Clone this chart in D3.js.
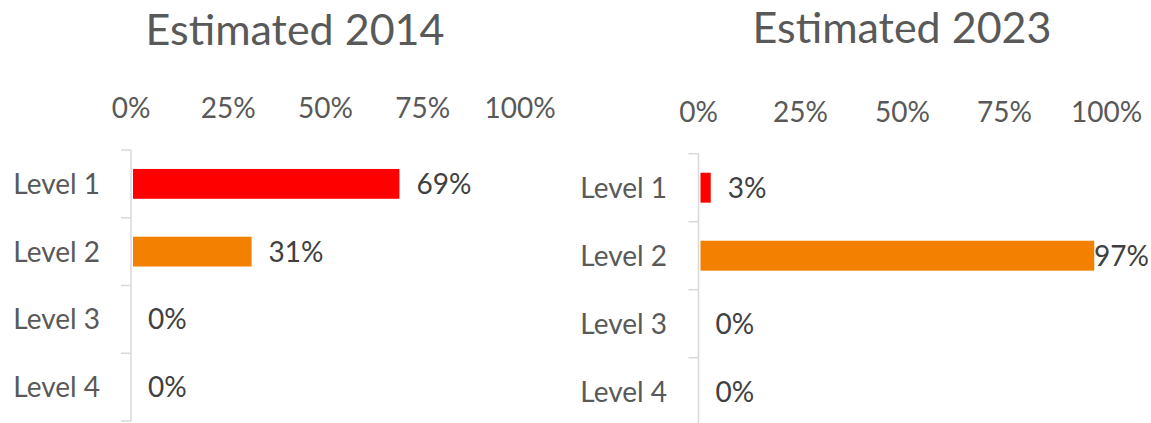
<!DOCTYPE html>
<html>
<head>
<meta charset="utf-8">
<script src="https://cdn.jsdelivr.net/npm/d3@7"></script>
<style>
  body { margin: 0; background: #fff; }
  text { font-family: Lato, "Open Sans", sans-serif; }
</style>
</head>
<body>
<div id="chart"></div>
<script>
// data
const levels = ["Level 1", "Level 2", "Level 3", "Level 4"];
const barColors = ["#ff0000", "#f48000", "#f48000", "#f48000"];
const values2014 = [0.69, 0.31, 0, 0];
const values2023 = [0.03, 0.97, 0, 0];
const tickValues = [0, 0.25, 0.5, 0.75, 1];
const titles = ["Estimated 2014", "Estimated 2023"];

const W = 1151, H = 423;
const svg = d3.select("#chart").append("svg")
  .attr("width", W)
  .attr("height", H);

const pct = d3.format(".0%");

// one panel per year
const panels = [
  { title: titles[0], values: values2014, x0: 131, x1: 520, y0: 150, y1: 421, titleX: 295, titleY: 45, tickY: 118, labelRight: 100, clip: 560 },
  { title: titles[1], values: values2023, x0: 698.5, x1: 1106.5, y0: 153.7, y1: 425.7, titleX: 902, titleY: 43, tickY: 122, labelRight: 667, clip: 1149 }
];

panels.forEach(p => {
  const g = svg.append("g");

  let x = d3.scaleLinear().domain([0, 1]).range([p.x0, p.x1]);
  let y = d3.scaleBand().domain(levels).range([p.y0, p.y1]).paddingInner(0.56).paddingOuter(0.28);
  let band = d3.scaleBand().domain(levels).range([p.y0, p.y1]);

  // title
  g.append("text")
    .attr("x", p.titleX)
    .attr("y", p.titleY)
    .attr("text-anchor", "middle")
    .attr("fill", "#595959")
    .attr("font-size", 43)
    .text(p.title);

  // top tick labels (no axis line in the original)
  g.selectAll(".tick")
    .data(tickValues)
    .enter()
    .append("text")
    .attr("x", d => x(d))
    .attr("y", p.tickY)
    .attr("text-anchor", "middle")
    .attr("fill", "#595959")
    .attr("font-size", 28)
    .text(d => pct(d));

  // vertical category axis with ticks between categories
  g.append("line")
    .attr("x1", x(0)).attr("x2", x(0))
    .attr("y1", p.y0).attr("y2", p.y1)
    .attr("stroke", "#d9d9d9")
    .attr("stroke-width", 1.5);

  const bounds = levels.map(d => band(d)).concat([p.y1]);
  g.selectAll(".ytick")
    .data(bounds)
    .enter()
    .append("line")
    .attr("x1", x(0) - 10).attr("x2", x(0))
    .attr("y1", d => d).attr("y2", d => d)
    .attr("stroke", "#d9d9d9")
    .attr("stroke-width", 1.5);

  // category labels
  g.selectAll(".cat")
    .data(levels)
    .enter()
    .append("text")
    .attr("x", p.labelRight)
    .attr("y", d => band(d) + band.bandwidth() / 2 + 10)
    .attr("text-anchor", "end")
    .attr("fill", "#595959")
    .attr("font-size", 28)
    .text(d => d);

  // bars
  g.selectAll(".bar")
    .data(p.values)
    .enter()
    .append("rect")
    .attr("x", x(0) + 2)
    .attr("y", (d, i) => y(levels[i]))
    .attr("width", d => Math.max(0, x(d) - x(0) - 2))
    .attr("height", y.bandwidth())
    .attr("fill", (d, i) => barColors[i]);

  // data labels, pushed back inside the plot when they would overflow
  g.selectAll(".val")
    .data(p.values)
    .enter()
    .append("text")
    .attr("x", d => x(d) + 17)
    .attr("y", (d, i) => band(levels[i]) + band.bandwidth() / 2 + 10)
    .attr("fill", "#404040")
    .attr("font-size", 28)
    .text(d => pct(d))
    .each(function () {
      const t = d3.select(this);
      const w = this.getComputedTextLength();
      const xx = +t.attr("x");
      if (xx + w > p.clip) t.attr("x", p.clip - w);
    });
});
</script>
</body>
</html>
